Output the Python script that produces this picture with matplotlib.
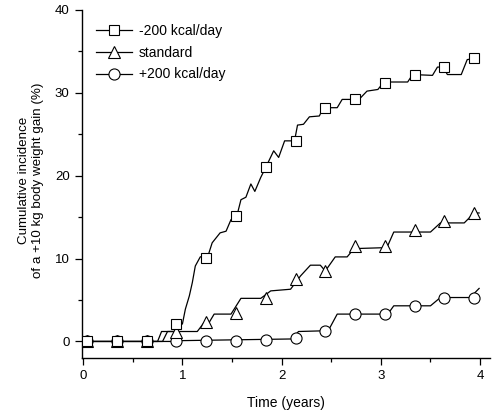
import matplotlib
matplotlib.use("Agg")
import matplotlib.pyplot as plt
from matplotlib.lines import Line2D
from matplotlib.ticker import MultipleLocator

plt.rcParams["font.family"] = ["Liberation Sans", "DejaVu Sans"]

# marker positions (years) shared by the three groups
mk_t = [0.04, 0.34, 0.64, 0.94, 1.24, 1.54, 1.84, 2.14, 2.44, 2.74, 3.04, 3.34, 3.64, 3.94]
sq_mk = [0, 0, 0, 2.1, 10.1, 15.1, 21.1, 24.2, 28.2, 29.2, 31.2, 32.2, 33.1, 34.2]
tr_mk = [0, 0, 0, 1.1, 2.4, 3.4, 5.3, 7.5, 8.5, 11.5, 11.5, 13.4, 14.5, 15.5]
ci_mk = [0, 0, 0, 0, 0.1, 0.1, 0.2, 0.4, 1.3, 3.3, 3.3, 4.3, 5.3, 5.3]

# cumulative incidence curves (vertices)
sq_t = [0, 0.75, 0.79, 0.93, 0.95, 1.00, 1.03, 1.07, 1.10, 1.13, 1.18, 1.26, 1.30, 1.38, 1.44,
        1.49, 1.55, 1.59, 1.64, 1.69, 1.73, 1.79, 1.84, 1.92, 1.97, 2.03, 2.13, 2.16, 2.22,
        2.28, 2.38, 2.42, 2.56, 2.61, 2.78, 2.86, 2.97, 3.03, 3.27, 3.32, 3.52, 3.57, 3.63,
        3.67, 3.81, 3.87, 3.97]
sq_y = [0, 0, 1.2, 1.2, 2.1, 2.1, 3.9, 5.5, 7.1, 9.1, 10.2, 10.4, 11.9, 13.1, 13.3,
        14.7, 15.2, 17.1, 17.4, 19.0, 18.1, 19.8, 21.0, 23.0, 22.2, 24.2, 24.2, 26.1, 26.2,
        27.1, 27.2, 28.2, 28.2, 29.2, 29.2, 30.2, 30.4, 31.3, 31.3, 32.2, 32.1, 33.1, 33.1,
        32.2, 32.2, 34.0, 34.2]

tr_t = [0, 0.80, 0.85, 1.15, 1.22, 1.27, 1.32, 1.49, 1.59, 1.79, 1.89, 2.09, 2.19, 2.29, 2.39,
        2.44, 2.54, 2.66, 2.73, 3.00, 3.06, 3.13, 3.50, 3.60, 3.84, 3.94, 3.99]
tr_y = [0, 0, 1.2, 1.2, 2.3, 2.3, 3.3, 3.3, 5.2, 5.2, 6.1, 6.3, 7.9, 9.2, 9.2,
        8.5, 10.2, 10.2, 11.2, 11.3, 11.3, 13.2, 13.2, 14.3, 14.3, 15.5, 15.5]

ci_t = [0, 0.90, 1.00, 2.10, 2.17, 2.47, 2.56, 3.07, 3.13, 3.50, 3.60, 3.90, 3.99]
ci_y = [0, 0, 0.1, 0.3, 1.2, 1.3, 3.3, 3.3, 4.3, 4.3, 5.3, 5.3, 6.4]

labels = ["-200 kcal/day", "standard", "+200 kcal/day"]

fig = plt.figure(figsize=(4.92, 4.12), dpi=100)
ax = fig.add_axes([0.167, 0.131, 0.829, 0.845])

lw = 0.9
ax.plot(ci_t, ci_y, color="k", lw=lw, zorder=2)
ax.plot(tr_t, tr_y, color="k", lw=lw, zorder=2)
ax.plot(sq_t, sq_y, color="k", lw=lw, zorder=2)
ax.plot(mk_t, ci_mk, ls="none", marker="o", ms=8, mfc="white", mec="k", mew=0.8, zorder=3)
ax.plot(mk_t, tr_mk, ls="none", marker="^", ms=8.5, mfc="white", mec="k", mew=0.8, zorder=4)
ax.plot(mk_t, sq_mk, ls="none", marker="s", ms=7, mfc="white", mec="k", mew=0.8, zorder=5)

ax.set_xlim(-0.01, 4.1)
ax.set_ylim(-2, 40)
for s in ["top", "right"]:
    ax.spines[s].set_visible(False)
for s in ["left", "bottom"]:
    ax.spines[s].set_linewidth(1.0)
ax.spines["left"].set_bounds(-2, 40)
ax.xaxis.set_major_locator(MultipleLocator(1))
ax.xaxis.set_minor_locator(MultipleLocator(0.5))
ax.yaxis.set_major_locator(MultipleLocator(10))
ax.yaxis.set_minor_locator(MultipleLocator(5))
ax.tick_params(which="major", direction="out", length=5, width=0.9, labelsize=9.5)
ax.tick_params(which="minor", direction="out", length=3, width=0.9)
ax.tick_params(axis="y", pad=4)

ax.set_xlabel("Time (years)", fontsize=10, labelpad=10)
ax.set_ylabel("Cumulative incidence\nof a +10 kg body weight gain (%)", fontsize=9.6,
              linespacing=1.3)
ax.yaxis.set_label_coords(-0.093, 0.51)

handles = [
    Line2D([], [], color="k", lw=lw, marker="s", ms=7, mfc="white", mec="k", mew=0.8),
    Line2D([], [], color="k", lw=lw, marker="^", ms=8.5, mfc="white", mec="k", mew=0.8),
    Line2D([], [], color="k", lw=lw, marker="o", ms=8, mfc="white", mec="k", mew=0.8),
]
ax.legend(handles, labels, loc="upper left", bbox_to_anchor=(0.02, 0.975), frameon=False,
          fontsize=10, handlelength=2.6, handletextpad=0.5, labelspacing=0.55, borderaxespad=0)

fig.savefig("out.png", dpi=100)
